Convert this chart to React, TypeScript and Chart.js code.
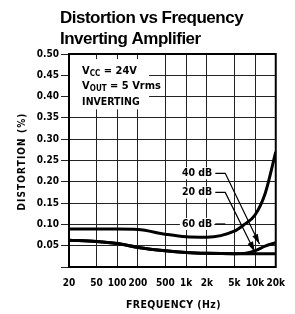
import React, { useEffect, useRef } from 'react';
import { Chart, registerables } from 'chart.js';
Chart.register(...registerables);

// Data
const frequencies = [20, 50, 100, 200, 500, 1000, 2000, 5000, 7000, 10000, 14000, 20000];
const dist60dB = [0.089, 0.089, 0.089, 0.088, 0.077, 0.071, 0.070, 0.084, 0.100, 0.122, 0.172, 0.27];
const dist40dB = [0.063, 0.060, 0.055, 0.046, 0.038, 0.034, 0.032, 0.031, 0.032, 0.038, 0.049, 0.057];
const dist20dB = [0.063, 0.060, 0.055, 0.046, 0.038, 0.034, 0.032, 0.031, 0.031, 0.031, 0.031, 0.031];
const xTickValues = [20, 50, 100, 200, 500, 1000, 2000, 5000, 10000, 20000];
const xTickLabels = ['20', '50', '100', '200', '500', '1k', '2k', '5k', '10k', '20k'];
const yTickValues = [0, 0.05, 0.1, 0.15, 0.2, 0.25, 0.3, 0.35, 0.4, 0.45, 0.5];

// Annotations (in data units)
const annotText = ['40 dB', '20 dB', '60 dB'];
const annotTextFreq = [2400, 2400, 2400];
const annotTextValue = [0.22, 0.175, 0.101];
const annotElbowFreq = [3700, 3700, 3700];
const annotTipFreq: (number | null)[] = [11600, 9900, null];
const annotTipValue: (number | null)[] = [0.054, 0.036, null];

const condFont = "'DejaVu Sans Condensed', 'Liberation Sans Narrow', sans-serif";

const overlayPlugin = {
  id: 'overlay',
  afterDatasetsDraw(chart: any) {
    const { ctx, chartArea: ca, scales } = chart;
    const xs = scales.x;
    const ys = scales.y;
    ctx.save();

    // Conditions box
    const bx0 = xs.getPixelForValue(20) + 1;
    const bx1 = xs.getPixelForValue(290);
    const by0 = ys.getPixelForValue(0.488);
    const by1 = ys.getPixelForValue(0.37);
    ctx.fillStyle = '#fff';
    ctx.fillRect(bx0, by0, bx1 - bx0, by1 - by0);
    ctx.fillStyle = '#000';
    ctx.textBaseline = 'middle';
    ctx.textAlign = 'left';
    const tx = xs.getPixelForValue(31);
    const drawSub = (main: string, sub: string, rest: string, v: number) => {
      const y = ys.getPixelForValue(v);
      ctx.font = `bold 11px ${condFont}`;
      let x = tx;
      ctx.fillText(main, x, y);
      x += ctx.measureText(main).width;
      ctx.font = `bold 8px ${condFont}`;
      ctx.fillText(sub, x, y + 2.5);
      x += ctx.measureText(sub).width;
      ctx.font = `bold 11px ${condFont}`;
      ctx.fillText(rest, x, y);
    };
    drawSub('V', 'CC', ' = 24V', 0.46);
    drawSub('V', 'OUT', ' = 5 Vrms', 0.425);
    ctx.font = `bold 10.5px ${condFont}`;
    ctx.fillText('INVERTING', tx, ys.getPixelForValue(0.387));

    // Curve labels with leaders / arrows
    ctx.font = `bold 10.5px ${condFont}`;
    for (let i = 0; i < annotText.length; i++) {
      const xr = xs.getPixelForValue(annotTextFreq[i]);
      const y = ys.getPixelForValue(annotTextValue[i]);
      const w = ctx.measureText(annotText[i]).width;
      ctx.fillStyle = '#fff';
      ctx.fillRect(xr - w - 2, y - 6, w + 4, 12);
      ctx.fillStyle = '#000';
      ctx.textAlign = 'right';
      ctx.fillText(annotText[i], xr, y);
      const xe = xs.getPixelForValue(annotElbowFreq[i]);
      ctx.strokeStyle = '#000';
      ctx.lineWidth = 1.2;
      ctx.beginPath();
      ctx.moveTo(xr + 3, y);
      ctx.lineTo(xe, y);
      const tf = annotTipFreq[i];
      const tv = annotTipValue[i];
      if (tf != null && tv != null) {
        const px = xs.getPixelForValue(tf);
        const py = ys.getPixelForValue(tv);
        ctx.lineTo(px, py);
        ctx.stroke();
        const ang = Math.atan2(py - y, px - xe);
        const L = 10, W = 3;
        ctx.beginPath();
        ctx.moveTo(px, py);
        ctx.lineTo(px - L * Math.cos(ang) + W * Math.sin(ang), py - L * Math.sin(ang) - W * Math.cos(ang));
        ctx.lineTo(px - L * Math.cos(ang) - W * Math.sin(ang), py - L * Math.sin(ang) + W * Math.cos(ang));
        ctx.closePath();
        ctx.fill();
      } else {
        ctx.stroke();
      }
    }

    // Frame
    ctx.strokeStyle = '#000';
    ctx.lineWidth = 2;
    ctx.strokeRect(ca.left, ca.top, ca.right - ca.left, ca.bottom - ca.top);

    // Axis titles
    ctx.fillStyle = '#000';
    ctx.textAlign = 'center';
    ctx.textBaseline = 'middle';
    ctx.font = `bold 10.5px ${condFont}`;
    (ctx as any).letterSpacing = '0.4px';
    ctx.fillText('FREQUENCY (Hz)', (ca.left + ca.right) / 2 + 1, 305);
    ctx.save();
    ctx.translate(22, (ca.top + ca.bottom) / 2 + 1);
    ctx.rotate(-Math.PI / 2);
    ctx.font = `bold 10px ${condFont}`;
    (ctx as any).letterSpacing = '1.1px';
    ctx.fillText('DISTORTION (%)', 0, 0);
    ctx.restore();

    // Title
    ctx.textAlign = 'left';
    ctx.textBaseline = 'alphabetic';
    ctx.font = "bold 17px 'Liberation Sans', Arial, sans-serif";
    (ctx as any).letterSpacing = '-0.5px';
    ctx.fillText('Distortion vs Frequency', 60, 23);
    ctx.fillText('Inverting Amplifier', 60, 44);
    ctx.restore();
  },
};

export default function App() {
  const ref = useRef<HTMLCanvasElement>(null);
  useEffect(() => {
    document.body.style.margin = '0';
    const tickFont = { family: condFont, weight: 'bold' as const, size: 10 };
    const mk = (label: string, data: number[]) => ({
      label,
      data: frequencies.map((f, i) => ({ x: f, y: data[i] })),
      borderColor: '#000',
      borderWidth: 3,
      pointRadius: 0,
      fill: false,
      cubicInterpolationMode: 'monotone' as const,
    });
    const chart = new Chart(ref.current!, {
      type: 'line',
      data: {
        datasets: [mk('60 dB', dist60dB), mk('40 dB', dist40dB), mk('20 dB', dist20dB)],
      },
      options: {
        responsive: false,
        animation: false,
        layout: { padding: { top: 54, right: 10, left: 0, bottom: 0 } },
        plugins: { legend: { display: false }, tooltip: { enabled: false }, title: { display: false } },
        scales: {
          x: {
            type: 'logarithmic',
            min: 20,
            max: 20000,
            afterBuildTicks: (s: any) => {
              s.ticks = xTickValues.map((v) => ({ value: v }));
            },
            afterFit: (s: any) => {
              s.height = 47;
            },
            ticks: {
              autoSkip: false,
              maxRotation: 0,
              padding: 10,
              color: '#000',
              font: tickFont,
              callback: (_v: any, i: number) => xTickLabels[i],
            },
            grid: { color: '#222', lineWidth: 1, drawTicks: false },
            border: { display: false },
          },
          y: {
            type: 'linear',
            min: 0,
            max: 0.5,
            afterBuildTicks: (s: any) => {
              s.ticks = yTickValues.map((v) => ({ value: v }));
            },
            afterFit: (s: any) => {
              s.width = 69;
            },
            ticks: {
              padding: 2,
              color: '#000',
              font: tickFont,
              callback: (v: any) => (Number(v) === 0 ? '' : Number(v).toFixed(2)),
            },
            grid: { color: '#222', lineWidth: 1, tickLength: 8 },
            border: { display: false },
          },
        },
      },
      plugins: [overlayPlugin],
    });
    return () => chart.destroy();
  }, []);
  return (
    <div style={{ width: 295, height: 314 }}>
      <canvas ref={ref} width={295} height={314} style={{ width: 295, height: 314, display: 'block' }} />
    </div>
  );
}
